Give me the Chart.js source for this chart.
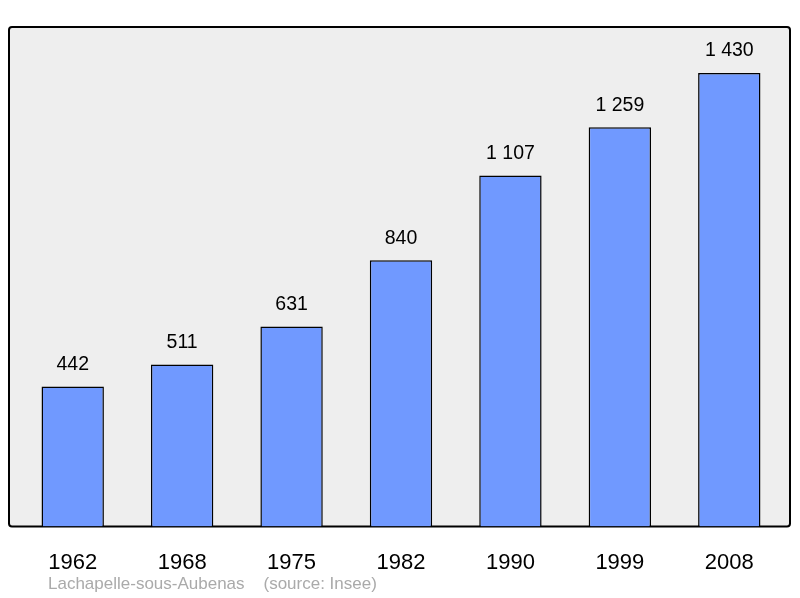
<!DOCTYPE html>
<html><head><meta charset="utf-8">
<script src="https://cdn.jsdelivr.net/npm/chart.js@4"></script>
<style>html,body{margin:0;padding:0;background:#fff}#c{display:block}</style>
</head><body>
<div style="width:800px;height:598px"><canvas id="c" width="800" height="598"></canvas></div>
<script>
const years = ["1962","1968","1975","1982","1990","1999","2008"];
const population = [442,511,631,840,1107,1259,1430];
const sourceText = "Lachapelle-sous-Aubenas    (source: Insee)";
const fmt = v => String(v).replace(/\B(?=(\d{3})+(?!\d))/g, " ");

const deco = {
  id:'deco',
  beforeDraw(chart){
    const {ctx, chartArea:a} = chart;
    const x0=a.left-9, x1=a.right+6, y0=a.top, y1=a.bottom;
    ctx.save();
    ctx.beginPath();
    ctx.roundRect(x0,y0,x1-x0,y1-y0,3);
    ctx.fillStyle='#eeeeee'; ctx.fill();
    ctx.lineWidth=2; ctx.strokeStyle='#000'; ctx.stroke();
    ctx.restore();
  },
  afterDatasetsDraw(chart){
    const {ctx} = chart;
    const meta = chart.getDatasetMeta(0);
    ctx.save();
    ctx.font='19.5px "Liberation Sans", Arial, sans-serif';
    ctx.fillStyle='#000'; ctx.textAlign='center'; ctx.textBaseline='middle';
    meta.data.forEach((b,i)=>ctx.fillText(fmt(population[i]), b.x, b.y-22));
    ctx.font='17px "Liberation Sans", Arial, sans-serif';
    ctx.fillStyle='#aaaaaa'; ctx.textAlign='left';
    ctx.fillText(sourceText, 48, 584);
    ctx.restore();
  }
};

new Chart(document.getElementById('c'), {
  type:'bar',
  data:{labels:years, datasets:[{data:population, backgroundColor:'#7099ff', borderColor:'#000', borderWidth:1.5, borderSkipped:'bottom', categoryPercentage:1, barPercentage:0.57}]},
  options:{
    responsive:false, animation:false, devicePixelRatio:1,
    layout:{padding:{left:18,right:16,top:27,bottom:7}},
    plugins:{legend:{display:false},tooltip:{enabled:false}},
    scales:{
      x:{grid:{display:false},border:{display:false},ticks:{padding:15,color:'#000',font:{size:22,family:'"Liberation Sans", Arial, sans-serif'}}},
      y:{display:false,min:0,max:1575}
    }
  },
  plugins:[deco]
});
</script>
</body></html>
